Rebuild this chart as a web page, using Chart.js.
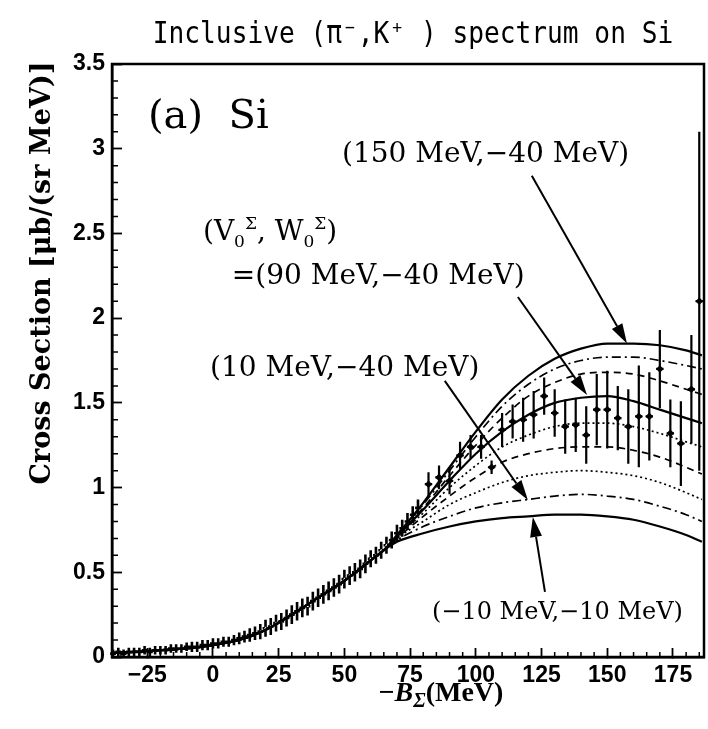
<!DOCTYPE html>
<html>
<head>
<meta charset="utf-8">
<script src="https://cdn.jsdelivr.net/npm/chart.js@4/dist/chart.umd.min.js"></script>
<style>
  html, body { margin: 0; padding: 0; background: #fff; }
</style>
</head>
<body>
<canvas id="c" width="708" height="729"></canvas>
<script>
// ──────────────── 轴与刻度 ────────────────
const xTicks = [-25, 0, 25, 50, 75, 100, 125, 150, 175];
const yTicks = [0, 0.5, 1, 1.5, 2, 2.5, 3, 3.5];

// ──────────────── 理论曲线 ────────────────
// 低能区各曲线重合
const curveXLow = [-38, -30, -20, -10, 0, 10, 20, 30, 40, 50, 60, 65];
const curveYLow = [0.025, 0.03, 0.04, 0.05, 0.07, 0.10, 0.16, 0.25, 0.35, 0.45, 0.57, 0.63];
const curveXHigh = [70, 80, 90, 100, 110, 120, 130, 140, 150, 160, 170, 180, 186];
const curveM10 = [0.68, 0.73, 0.77, 0.80, 0.82, 0.83, 0.84, 0.84, 0.83, 0.81, 0.77, 0.72, 0.68];
const curve10 = [0.69, 0.77, 0.83, 0.88, 0.91, 0.93, 0.95, 0.96, 0.95, 0.93, 0.89, 0.84, 0.80];
const curve30 = [0.70, 0.80, 0.90, 0.97, 1.03, 1.07, 1.09, 1.10, 1.09, 1.07, 1.03, 0.97, 0.93];
const curve50 = [0.70, 0.83, 0.95, 1.06, 1.15, 1.20, 1.23, 1.24, 1.24, 1.22, 1.18, 1.12, 1.08];
const curve70 = [0.71, 0.85, 1.00, 1.13, 1.24, 1.31, 1.36, 1.38, 1.38, 1.36, 1.32, 1.27, 1.24];
const curve90 = [0.71, 0.87, 1.04, 1.20, 1.33, 1.43, 1.50, 1.53, 1.54, 1.51, 1.46, 1.41, 1.38];
const curve110 = [0.71, 0.88, 1.07, 1.25, 1.41, 1.54, 1.62, 1.67, 1.68, 1.67, 1.63, 1.58, 1.55];
const curve130 = [0.72, 0.90, 1.10, 1.30, 1.48, 1.61, 1.70, 1.75, 1.77, 1.77, 1.75, 1.72, 1.70];
const curve150 = [0.72, 0.91, 1.12, 1.33, 1.52, 1.66, 1.76, 1.82, 1.85, 1.85, 1.84, 1.81, 1.78];

// ──────────────── 实验数据 ────────────────
const bandX = [-38, -36, -34, -32, -30, -28, -26, -24, -22, -20, -18, -16, -14, -12, -10, -8, -6, -4, -2,
  0, 2, 4, 6, 8, 10, 12, 14, 16, 18, 20, 22, 24, 26, 28, 30, 32, 34, 36, 38,
  40, 42, 44, 46, 48, 50, 52, 54, 56, 58, 60, 62, 64, 66, 68, 70, 72, 74, 76, 78];
const bandY = [0.02, 0.03, 0.02, 0.03, 0.03, 0.03, 0.04, 0.03, 0.04, 0.04, 0.04, 0.05, 0.05, 0.05, 0.06, 0.06, 0.06, 0.07, 0.07,
  0.08, 0.08, 0.09, 0.09, 0.10, 0.11, 0.12, 0.13, 0.14, 0.15, 0.17, 0.18, 0.20, 0.21, 0.23, 0.25, 0.27, 0.29, 0.30, 0.33,
  0.35, 0.37, 0.39, 0.41, 0.43, 0.46, 0.48, 0.50, 0.52, 0.55, 0.58, 0.60, 0.63, 0.66, 0.69, 0.73, 0.76, 0.80, 0.84, 0.88];
const bandErr = [0.025, 0.025, 0.025, 0.025, 0.025, 0.025, 0.025, 0.025, 0.025, 0.025, 0.025, 0.025, 0.025, 0.025, 0.025, 0.03, 0.03, 0.03, 0.03,
  0.03, 0.03, 0.03, 0.03, 0.03, 0.035, 0.035, 0.04, 0.04, 0.045, 0.05, 0.05, 0.05, 0.05, 0.05, 0.055, 0.055, 0.055, 0.055, 0.055,
  0.055, 0.055, 0.055, 0.055, 0.055, 0.055, 0.055, 0.055, 0.055, 0.055, 0.05, 0.05, 0.05, 0.05, 0.05, 0.05, 0.05, 0.05, 0.05, 0.05];

const dataX = [82, 86, 90, 94, 98, 102, 106, 110, 114, 118, 122, 126, 130, 134, 138, 142, 146, 150, 154, 158, 162, 166, 170, 174, 178, 182, 185];
const dataY = [1.02, 1.06, 1.04, 1.19, 1.24, 1.24, 1.12, 1.34, 1.39, 1.40, 1.43, 1.54, 1.44, 1.36, 1.37, 1.31, 1.46, 1.46, 1.41, 1.36, 1.42, 1.42, 1.70, 1.32, 1.26, 1.58, 2.10];
const dataErr = [0.07, 0.07, 0.08, 0.08, 0.07, 0.07, 0.04, 0.10, 0.10, 0.13, 0.14, 0.11, 0.14, 0.16, 0.16, 0.17, 0.21, 0.23, 0.19, 0.22, 0.30, 0.26, 0.23, 0.20, 0.25, 0.32, 1.00];

// ──────────────── 数据集 ────────────────
const curveX = curveXLow.concat(curveXHigh);
const toXY = ys => curveX.map((x, i) => ({ x, y: curveYLow.concat(ys)[i] }));

const curves = [
  { data: curve150, dash: [], width: 2.2 },
  { data: curve130, dash: [9, 4, 2, 4], width: 1.7 },
  { data: curve110, dash: [7, 5], width: 1.7 },
  { data: curve90, dash: [], width: 2.2 },
  { data: curve70, dash: [2, 3], width: 1.7 },
  { data: curve50, dash: [7, 5], width: 1.7 },
  { data: curve30, dash: [2, 3], width: 1.7 },
  { data: curve10, dash: [9, 4, 2, 4], width: 1.7 },
  { data: curveM10, dash: [], width: 2.2 },
];

const datasets = curves.map(c => ({
  type: 'line',
  data: toXY(c.data),
  borderColor: '#000',
  borderWidth: c.width,
  borderDash: c.dash,
  pointRadius: 0,
  fill: false,
  cubicInterpolationMode: 'monotone',
}));

// 低能区密集数据：黑带中的白色小点
datasets.push({
  type: 'scatter',
  data: bandX.map((x, i) => ({ x, y: bandY[i] })),
  pointStyle: 'triangle',
  pointRadius: c => (bandX[c.dataIndex] >= 18 && bandX[c.dataIndex] <= 66 ? 1.6 : 0),
  backgroundColor: '#fff', borderWidth: 0,
});
datasets.push({
  type: 'scatter',
  data: dataX.map((x, i) => ({ x, y: dataY[i] })),
  pointStyle: 'rectRot', pointRadius: 3.8,
  backgroundColor: '#000', borderColor: '#000', borderWidth: 0,
});

const errorSets = [
  { xs: bandX, ys: bandY, errs: bandErr, hw: 1.1, lw: 2.6 },
  { xs: dataX, ys: dataY, errs: dataErr, hw: 1.4, lw: 2.2 },
];

// ──────────────── 注释（数据坐标） ────────────────
const SERIF = '"DejaVu Serif", serif';
const notes = [
  { text: '(a)  Si', x: -24.7, y: 3.12, font: '40px ' + SERIF },
  { text: '(150 MeV,−40 MeV)', x: 49.1, y: 2.92, font: '28px ' + SERIF },
  { text: '=(90 MeV,−40 MeV)', x: 7.2, y: 2.20, font: '28px ' + SERIF },
  { text: '(10 MeV,−40 MeV)', x: -1.1, y: 1.66, font: '28px ' + SERIF },
  { text: '(−10 MeV,−10 MeV)', x: 83.3, y: 0.224, font: '24px ' + SERIF },
];
const vwLabel = { x: -3.8, y: 2.46 };
const arrows = [
  { from: [121.3, 2.84], to: [157.5, 1.85] },
  { from: [116.0, 2.125], to: [142.3, 1.547] },
  { from: [88.2, 1.63], to: [119.8, 0.927] },
  { from: [126.3, 0.384], to: [121.7, 0.826] },
];

// ──────────────── 插件 ────────────────
const errorBars = {
  id: 'errorBars',
  beforeDatasetsDraw(chart) {
    const { ctx, scales: { x, y } } = chart;
    ctx.save();
    ctx.strokeStyle = '#000';
    errorSets.forEach(s => {
      ctx.lineWidth = s.lw;
      ctx.beginPath();
      s.xs.forEach((xv, i) => {
        const px = x.getPixelForValue(xv);
        const py = y.getPixelForValue(s.ys[i]);
        ctx.moveTo(px, y.getPixelForValue(s.ys[i] - s.errs[i]));
        ctx.lineTo(px, y.getPixelForValue(s.ys[i] + s.errs[i]));
        ctx.moveTo(x.getPixelForValue(xv - s.hw), py);
        ctx.lineTo(x.getPixelForValue(xv + s.hw), py);
      });
      ctx.stroke();
    });
    ctx.restore();
  }
};

function drawRich(ctx, parts, x0, y0) {
  let x = x0;
  parts.forEach(p => {
    ctx.font = p.font;
    ctx.fillText(p.t, x, y0 + (p.dy || 0));
    x += ctx.measureText(p.t).width;
  });
  return x;
}

const decorations = {
  id: 'decorations',
  afterDraw(chart) {
    const { ctx, chartArea: a, scales: { x, y } } = chart;
    ctx.save();
    ctx.strokeStyle = '#000';
    ctx.fillStyle = '#000';

    // 外框
    ctx.lineWidth = 2.5;
    ctx.strokeRect(a.left, a.top, a.right - a.left, a.bottom - a.top);

    // 次刻度（向内）
    ctx.lineWidth = 1.5;
    ctx.beginPath();
    for (let v = -35; v <= 185; v += 5) {
      if (v % 25 === 0) continue;
      const px = x.getPixelForValue(v);
      ctx.moveTo(px, a.bottom);
      ctx.lineTo(px, a.bottom - 5);
    }
    for (let k = 1; k < 35; k++) {
      if (k % 5 === 0) continue;
      const py = y.getPixelForValue(k / 10);
      ctx.moveTo(a.left, py);
      ctx.lineTo(a.left + 6, py);
    }
    ctx.stroke();

    // 标题
    ctx.save();
    ctx.font = '31px "DejaVu Sans Mono", monospace';
    ctx.textAlign = 'center';
    ctx.textBaseline = 'alphabetic';
    ctx.translate(413, 43);
    ctx.scale(0.845, 1);
    ctx.fillText('Inclusive (π⁻,K⁺ ) spectrum on Si', 0, 0);
    ctx.restore();

    // y 轴标题
    ctx.save();
    ctx.font = 'bold 27px ' + SERIF;
    ctx.textAlign = 'center';
    ctx.translate(50, 273);
    ctx.rotate(-Math.PI / 2);
    ctx.fillText('Cross Section [μb/(sr MeV)]', 0, 0);
    ctx.restore();

    // x 轴标题
    ctx.textAlign = 'left';
    const xParts = [
      { t: '−', font: 'bold 28px "Liberation Serif", serif' },
      { t: 'B', font: 'italic bold 28px "Liberation Serif", serif' },
      { t: 'Σ', font: 'italic bold 20px "Liberation Serif", serif', dy: 6 },
      { t: '(MeV)', font: 'bold 28px "Liberation Serif", serif' },
    ];
    let w = 0;
    xParts.forEach(p => { ctx.font = p.font; w += ctx.measureText(p.t).width; });
    drawRich(ctx, xParts, 441 - w / 2, 701);

    // 文字注释
    notes.forEach(n => {
      ctx.font = n.font;
      ctx.fillText(n.text, x.getPixelForValue(n.x), y.getPixelForValue(n.y));
    });
    const f = '28px ' + SERIF, fs = '17px ' + SERIF;
    drawRich(ctx, [
      { t: '(V', font: f }, { t: '0', font: fs, dy: 7 }, { t: 'Σ', font: fs, dy: -11 },
      { t: ', W', font: f }, { t: '0', font: fs, dy: 7 }, { t: 'Σ', font: fs, dy: -11 },
      { t: ')', font: f },
    ], x.getPixelForValue(vwLabel.x), y.getPixelForValue(vwLabel.y));

    // 箭头
    ctx.lineWidth = 2;
    arrows.forEach(ar => {
      const x1 = x.getPixelForValue(ar.from[0]), y1 = y.getPixelForValue(ar.from[1]);
      const x2 = x.getPixelForValue(ar.to[0]), y2 = y.getPixelForValue(ar.to[1]);
      const ang = Math.atan2(y2 - y1, x2 - x1);
      const hl = 20, hw = 6;
      const bx = x2 - hl * Math.cos(ang), by = y2 - hl * Math.sin(ang);
      ctx.beginPath();
      ctx.moveTo(x1, y1);
      ctx.lineTo(bx, by);
      ctx.stroke();
      ctx.beginPath();
      ctx.moveTo(x2, y2);
      ctx.lineTo(bx + hw * Math.sin(ang), by - hw * Math.cos(ang));
      ctx.lineTo(bx - hw * Math.sin(ang), by + hw * Math.cos(ang));
      ctx.closePath();
      ctx.fill();
    });
    ctx.restore();
  }
};

// ──────────────── 图表 ────────────────
Chart.defaults.color = '#000';
const tickFont = { family: '"Liberation Sans", Arial, sans-serif', weight: 'bold', size: 23 };

new Chart(document.getElementById('c'), {
  data: { datasets },
  options: {
    responsive: false,
    animation: false,
    events: [],
    layout: { padding: { left: 0, right: 4, top: 64, bottom: 0 } },
    plugins: { legend: { display: false }, tooltip: { enabled: false } },
    scales: {
      x: {
        type: 'linear', min: -38.4, max: 186.8,
        afterBuildTicks: s => { s.ticks = xTicks.map(v => ({ value: v })); },
        afterFit: s => { s.height = 72; },
        ticks: { font: tickFont, padding: 14, maxRotation: 0, autoSkip: false, callback: v => String(v).replace('-', '−') },
        grid: { drawOnChartArea: false, drawTicks: true, tickLength: -9, tickWidth: 1.8, tickColor: '#000' },
        border: { display: true, color: '#000', width: 2.5 },
      },
      y: {
        type: 'linear', min: 0, max: 3.5,
        afterBuildTicks: s => { s.ticks = yTicks.map(v => ({ value: v })); },
        afterFit: s => { s.width = 112; },
        ticks: { font: tickFont, padding: 17, autoSkip: false, callback: v => String(v) },
        grid: { drawOnChartArea: false, drawTicks: true, tickLength: -10, tickWidth: 1.8, tickColor: '#000' },
        border: { display: true, color: '#000', width: 2.5 },
      },
    },
  },
  plugins: [errorBars, decorations],
});
</script>
</body>
</html>
